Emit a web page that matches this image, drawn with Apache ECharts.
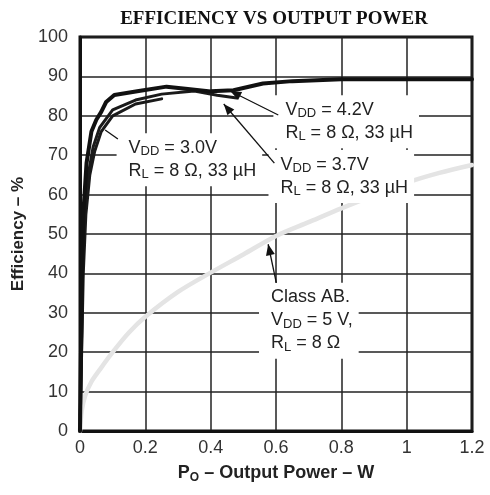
<!DOCTYPE html>
<html><head><meta charset="utf-8">
<script src="https://cdn.jsdelivr.net/npm/echarts@6/dist/echarts.min.js"></script>
<style>html,body{margin:0;padding:0;background:#fff}#c{width:490px;height:495px}</style>
</head><body><div id="c"></div>
<script>
// ---- data ----
const xTickValues = [0, 0.2, 0.4, 0.6, 0.8, 1, 1.2];
const yTickValues = [0, 10, 20, 30, 40, 50, 60, 70, 80, 90, 100];
const vdd42 = [[0,0],[0.003,20],[0.006,40],[0.01,55],[0.02,68],[0.035,76],[0.05,79],[0.065,81],[0.08,83.5],[0.105,85.3],[0.18,86.3],[0.265,87.4],[0.33,86.8],[0.4,86.2],[0.47,86.5],[0.56,88.2],[0.65,88.8],[0.8,89.3],[1.2,89.3]];
const vdd37 = [[0,0],[0.004,20],[0.008,40],[0.014,55],[0.025,65],[0.04,72],[0.06,77],[0.1,81.5],[0.17,84],[0.25,85.5],[0.35,86.3],[0.42,85.2],[0.48,84.5]];
const vdd30 = [[0,0],[0.005,20],[0.01,40],[0.018,55],[0.03,65],[0.045,71],[0.065,76],[0.1,80],[0.17,83],[0.25,84.3]];
const classAB = [[0,0],[0.005,5],[0.016,9],[0.035,12.5],[0.06,15.5],[0.1,20],[0.15,25],[0.2,29],[0.3,35.3],[0.4,40.2],[0.5,44.8],[0.6,49.5],[0.7,53],[0.8,56.5],[0.9,59.8],[1.0,63],[1.1,65.5],[1.2,67.5]];
const noteTexts = [
  'V{s|DD} = 3.0V\nR{s|L} = 8 Ω, 33 µH',
  'V{s|DD} = 4.2V\nR{s|L} = 8 Ω, 33 µH',
  'V{s|DD} = 3.7V\nR{s|L} = 8 Ω, 33 µH',
  'Class AB.\nV{s|DD} = 5 V,\nR{s|L} = 8 Ω'
];
// annotation anchors (data coordinates): box top-left, leader tip, leader tail
const noteBoxes = [[0.112,75.6],[0.592,85.2],[0.577,71.3],[0.548,37.6]];
const leaders = [
  {tip:[0.077,76.4], tail:[0.116,74.1], arrow:false},
  {tip:[0.46,86.3], tail:[0.607,80.2], arrow:true},
  {tip:[0.44,83.0], tail:[0.595,68.0], arrow:true},
  {tip:[0.576,47.4], tail:[0.601,37.6], arrow:true}
];

const FONT = '"Liberation Sans", Arial, sans-serif';
const chart = echarts.init(document.getElementById('c'), null, {renderer:'canvas'});
const lineSeries = (name, data, color, width) => ({
  name, type:'line', data, showSymbol:false, symbol:'none', smooth: false,
  lineStyle:{color, width, join:'round', cap:'round'}, z: 3
});
chart.setOption({
  animation:false,
  backgroundColor:'#fff',
  title:{text:'EFFICIENCY VS OUTPUT POWER', left:269, top:5, textAlign:'center',
    textStyle:{fontFamily:'"Liberation Serif", "Times New Roman", serif', fontWeight:'bold', fontSize:19, color:'#111'}},
  grid:{left:80, right:18, top:37, bottom:64, show:true, borderColor:'#111', borderWidth:3, backgroundColor:'transparent'},
  xAxis:{type:'value', min:0, max:1.2, interval:0.2,
    name:'{n|P}{s|O}{n| – Output Power – W}', nameLocation:'middle', nameGap:31,
    nameTextStyle:{rich:{n:{fontFamily:FONT, fontSize:18, fontWeight:'bold', color:'#222'}, s:{fontFamily:FONT, fontSize:12, fontWeight:'bold', color:'#222', padding:[10,0,0,0]}}},
    axisLine:{show:true, lineStyle:{color:'#111', width:3}},
    axisTick:{show:false},
    splitLine:{show:true, lineStyle:{color:'#222', width:1.5}},
    axisLabel:{margin:8, fontFamily:FONT, fontSize:18, color:'#333',
      formatter:v => { const t = xTickValues.find(k => Math.abs(k - v) < 1e-9); return t === undefined ? '' : String(t); }}
  },
  yAxis:{type:'value', min:0, max:100, interval:10,
    name:'Efficiency – %', nameLocation:'middle', nameGap:53,
    nameTextStyle:{fontFamily:FONT, fontSize:17, fontWeight:'bold', color:'#222'},
    axisLine:{show:true, lineStyle:{color:'#111', width:3}},
    axisTick:{show:false},
    splitLine:{show:true, lineStyle:{color:'#222', width:1.5}},
    axisLabel:{margin:12, fontFamily:FONT, fontSize:18, color:'#333',
      formatter:v => { const t = yTickValues.find(k => Math.abs(k - v) < 1e-9); return t === undefined ? '' : String(t); }}
  },
  series:[
    Object.assign(lineSeries('Class AB', classAB, '#e4e4e4', 4.5), {smooth:0.3, z:2}),
    lineSeries('VDD = 3.0V', vdd30, '#1a1a1a', 3),
    lineSeries('VDD = 3.7V', vdd37, '#1a1a1a', 3),
    lineSeries('VDD = 4.2V', vdd42, '#111', 4)
  ]
});

const px = p => chart.convertToPixel({gridIndex:0}, p);
const graphics = [];
noteTexts.forEach((t, i) => {
  const p = px(noteBoxes[i]);
  graphics.push({type:'text', x:p[0], y:p[1], z:100,
    style:{text:t, fill:'#222', font:'18px ' + FONT, lineHeight:23,
      backgroundColor:'#fff', padding:[3,6,4,12], textAlign:'left', textVerticalAlign:'top',
      rich:{s:{fontSize:13, fontFamily:FONT, fill:'#222', padding:[8,0,0,0], lineHeight:23}}}});
});
leaders.forEach(l => {
  const a = px(l.tip), b = px(l.tail);
  graphics.push({type:'line', z:101, shape:{x1:a[0], y1:a[1], x2:b[0], y2:b[1]}, style:{stroke:'#111', lineWidth:1.3}});
  if (l.arrow) {
    const dx = b[0]-a[0], dy = b[1]-a[1], L = Math.hypot(dx, dy), ux = dx/L, uy = dy/L;
    const len = 11, hw = 4.5;
    graphics.push({type:'polygon', z:102, shape:{points:[
      [a[0], a[1]],
      [a[0]+ux*len - uy*hw, a[1]+uy*len + ux*hw],
      [a[0]+ux*len + uy*hw, a[1]+uy*len - ux*hw]
    ]}, style:{fill:'#111'}});
  }
});
chart.setOption({graphic:graphics});
</script></body></html>
